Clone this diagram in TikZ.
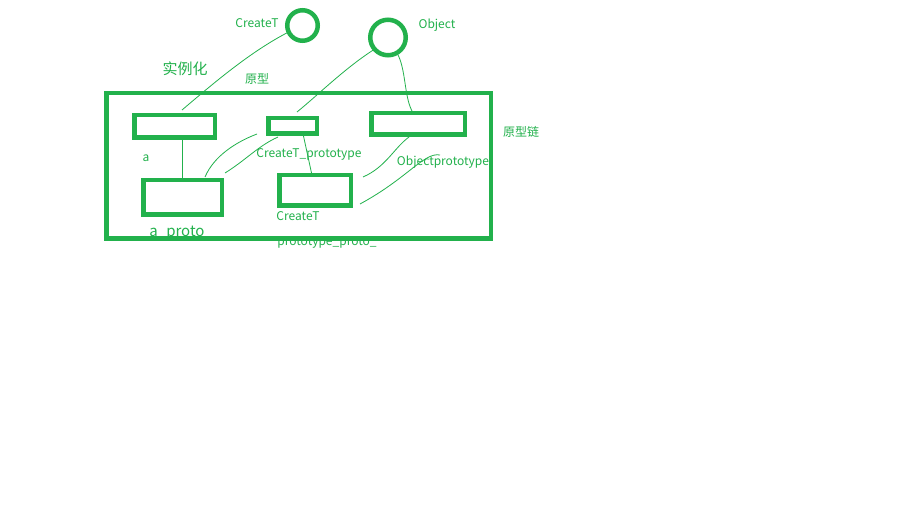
\documentclass[tikz,border=0pt]{standalone}
\usepackage{fontspec}
\setmainfont{Noto Sans CJK SC}
\usetikzlibrary{calc}
\definecolor{pg}{HTML}{22B14C}
\begin{document}
\begin{tikzpicture}[x=1pt,y=-1pt,
  thickbox/.style={draw=pg,line width=4.5pt,inner sep=0pt,outer sep=0pt},
  ring/.style={circle,draw=pg,line width=4.5pt,inner sep=0pt,outer sep=0pt},
  lbl/.style={text=pg,inner sep=0pt,font=\fontsize{12}{14}\selectfont},
  biglbl/.style={text=pg,inner sep=0pt,font=\fontsize{15}{17}\selectfont},
  wire/.style={draw=pg,line width=0.8pt}]
\useasboundingbox[fill=white] (0,0) rectangle (924,529);

% labels (drawn first so the thick lines cover them)
\node[lbl] (tCreateT) at (257,23) {CreateT};
\node[lbl] (tObject) at (437,25) {Object};
\node[biglbl] (tInst) at (185,69) {实例化};
\node[lbl] (tProto) at (257,79) {原型};
\node[lbl] (tA) at (146,158) {a};
\node[lbl] (tCP) at (309,154) {CreateT\_prototype};
\node[lbl] (tOP) at (443,162) {Objectprototype};
\node[lbl] (tChain) at (521,132) {原型链};
\node[biglbl] (tAP) at (177,232.5) {a\_proto};
\node[lbl] (tCT) at (298,216) {CreateT};
\node[lbl] (tPP) at (327,242.5) {prototype\_proto\_};

% circles
\node[ring,minimum size=30.5pt] (cC) at (302.5,25.5) {};
\node[ring,minimum size=35.5pt] (cO) at (388,37.5) {};

% boxes
\node[thickbox,minimum width=384.5pt,minimum height=145.5pt] (big) at (298.5,166) {};
\node[thickbox,minimum width=80.5pt,minimum height=22.5pt] (rA) at (174.5,126.5) {};
\node[thickbox,minimum width=48.5pt,minimum height=15.5pt] (rCP) at (292.5,126) {};
\node[thickbox,minimum width=93.5pt,minimum height=21.5pt] (rOP) at (418,124) {};
\node[thickbox,minimum width=78.5pt,minimum height=34.5pt] (rAP) at (182.5,197.5) {};
\node[thickbox,minimum width=71.5pt,minimum height=30.5pt] (rCT) at (315,190.5) {};

% free ends of the hand-drawn strokes
\coordinate (e1) at (182,110);
\coordinate (e2) at (297,112);
\coordinate (e3) at (412,111);
\coordinate (s6) at (257,134);
\coordinate (e6) at (205,177);
\coordinate (s7) at (278,137);
\coordinate (e7) at (225,173);
\coordinate (s8) at (409,137);
\coordinate (e8) at (363,177);
\coordinate (s9) at (440,155);
\coordinate (e9) at (360,204);

% connectors
\draw[wire] (cC.205) .. controls (250,52) and (215,82) .. (e1);
\draw[wire] (cO.221) .. controls (345,68) and (318,95) .. (e2);
\draw[wire] (cO.-60) .. controls (406,68) and (404,96) .. (e3);
\draw[wire] (rAP.north |- rA.south) -- (rAP.north);
\draw[wire] ($(rCP.south)+(10.5,0)$) -- ($(rCT.north)+(-3,0)$);
\draw[wire] (s6) .. controls (236,142) and (214,156) .. (e6);
\draw[wire] (s7) .. controls (258,146) and (246,160) .. (e7);
\draw[wire] (s8) .. controls (394,148) and (386,167) .. (e8);
\draw[wire] (s9) .. controls (424,152) and (408,178) .. (e9);
\end{tikzpicture}
\end{document}
